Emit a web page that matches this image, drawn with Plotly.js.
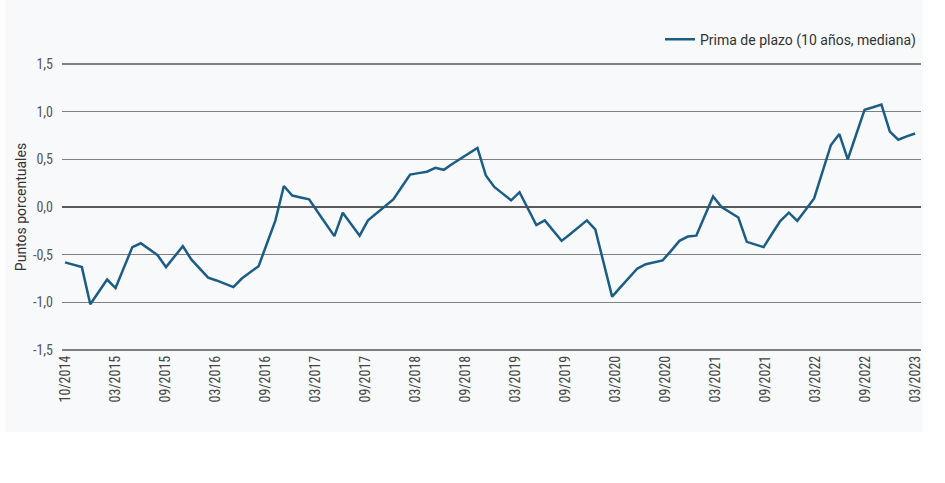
<!DOCTYPE html>
<html>
<head>
<meta charset="utf-8">
<script src="https://cdn.plot.ly/plotly-3.0.1.min.js"></script>
<style>
  html, body { margin: 0; padding: 0; background: #ffffff; }
  #panel { position: absolute; left: 5px; top: 0px; width: 918px; height: 432px; background: #f8f9fa; }
  #chart { position: absolute; left: 0; top: 0; width: 945px; height: 483px; }
</style>
</head>
<body>
<div id="panel"></div>
<div id="chart"></div>
<script>
// Monthly observations, 10/2014 .. 03/2023
const seriesName = "Prima de plazo (10 años, mediana)";
const termPremium = [
  -0.58, -0.605, -0.63, -1.02, -0.89, -0.76, -0.85, -0.635, -0.42, -0.38,
  -0.44, -0.505, -0.63, -0.52, -0.41, -0.55, -0.645, -0.74, -0.77, -0.805,
  -0.84, -0.75, -0.685, -0.62, -0.38, -0.14, 0.22, 0.12, 0.10, 0.08,
  -0.05, -0.18, -0.305, -0.06, -0.18, -0.30, -0.14, -0.07, 0.00, 0.08,
  0.21, 0.34, 0.355, 0.37, 0.41, 0.39, 0.45, 0.505, 0.565, 0.62,
  0.33, 0.21, 0.14, 0.07, 0.155, -0.02, -0.19, -0.14, -0.25, -0.355,
  -0.285, -0.21, -0.14, -0.235, -0.59, -0.94, -0.84, -0.74, -0.645, -0.60,
  -0.58, -0.56, -0.46, -0.355, -0.31, -0.30, -0.095, 0.11, 0.00, -0.055,
  -0.11, -0.365, -0.39, -0.42, -0.28, -0.145, -0.06, -0.145, -0.03, 0.09,
  0.37, 0.65, 0.765, 0.50, 0.76, 1.02, 1.045, 1.074, 0.79, 0.705,
  0.74, 0.77
];
const xTickLabels = [
  "10/2014", "03/2015", "09/2015", "03/2016", "09/2016", "03/2017",
  "09/2017", "03/2018", "09/2018", "03/2019", "09/2019", "03/2020",
  "09/2020", "03/2021", "09/2021", "03/2022", "09/2022", "03/2023"
];
const yTickValues = [-1.5, -1.0, -0.5, 0.0, 0.5, 1.0, 1.5];
const yTickLabels = ["-1,5", "-1,0", "-0,5", "0,0", "0,5", "1,0", "1,5"];

const xIndex = termPremium.map((_, i) => i);
const last = termPremium.length - 1;
// labels spread evenly from first to last observation
const xTickPos = xTickLabels.map((_, i) => i * last / (xTickLabels.length - 1));

const condensed = '"Roboto Condensed", "Liberation Sans Narrow", "DejaVu Sans Condensed", Roboto, sans-serif';

const trace = {
  x: xIndex,
  y: termPremium,
  type: 'scatter',
  mode: 'lines',
  name: seriesName,
  line: { color: '#1c5d86', width: 2.5 },
  hoverinfo: 'skip'
};

const layout = {
  width: 945,
  height: 483,
  margin: { l: 62, r: 24, t: 62, b: 131 },
  paper_bgcolor: 'rgba(0,0,0,0)',
  plot_bgcolor: 'rgba(0,0,0,0)',
  showlegend: true,
  legend: {
    x: 1, xanchor: 'right',
    y: 1.077, yanchor: 'middle',
    bgcolor: 'rgba(0,0,0,0)',
    font: { family: 'Roboto, sans-serif', size: 14, color: '#333333' },
    itemwidth: 30
  },
  xaxis: {
    range: [-0.36, 101.7],
    tickmode: 'array',
    tickvals: xTickPos,
    ticktext: xTickLabels,
    tickangle: -90,
    showgrid: false,
    zeroline: false,
    showline: false,
    ticks: '',
    tickfont: { family: condensed, size: 14, color: '#444444' },
    fixedrange: true
  },
  yaxis: {
    range: [-1.52, 1.52],
    tickmode: 'array',
    tickvals: yTickValues,
    ticktext: yTickLabels,
    showgrid: true,
    gridcolor: '#7f7f7f',
    gridwidth: 1.6,
    zeroline: true,
    zerolinecolor: '#5a5a5a',
    zerolinewidth: 2.5,
    showline: false,
    ticks: '',
    ticklabelstandoff: 8,
    tickfont: { family: condensed, size: 14, color: '#555555' },
    title: {
      text: 'Puntos porcentuales',
      font: { family: 'Roboto, sans-serif', size: 14, color: '#333333' },
      standoff: 3
    },
    fixedrange: true
  }
};

Plotly.newPlot('chart', [trace], layout, { displayModeBar: false, staticPlot: true });
</script>
</body>
</html>
